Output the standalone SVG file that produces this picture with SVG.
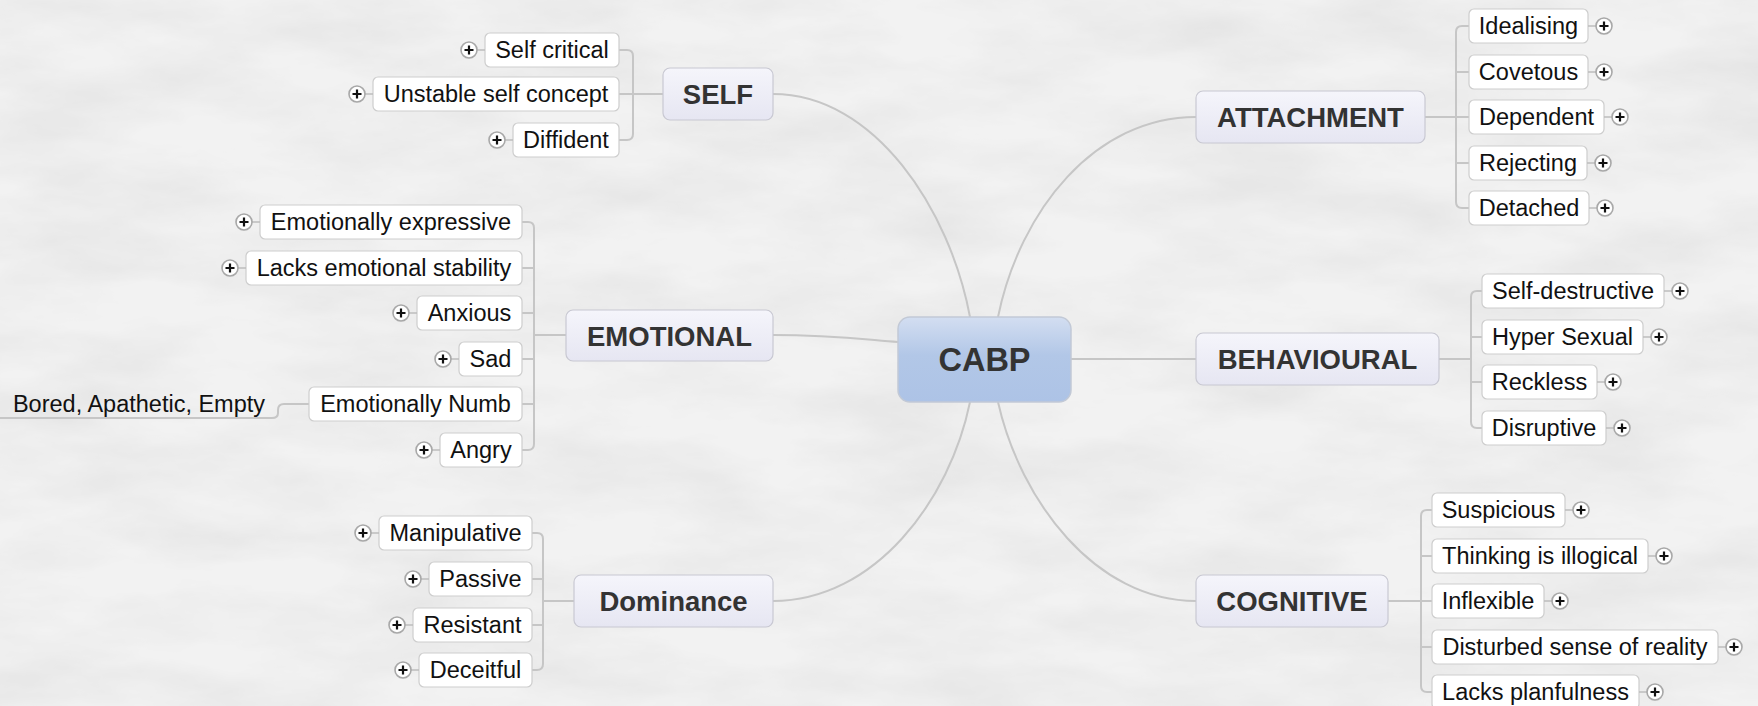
<svg xmlns="http://www.w3.org/2000/svg" xmlns:xlink="http://www.w3.org/1999/xlink" width="1758" height="706" viewBox="0 0 1758 706">
<style>
.conn{fill:none;stroke:#c6c6c6;stroke-width:2}
.child rect{fill:#fff;stroke:#cdcdcd;stroke-width:1.2}
.child text,.leaf text{font-family:"Liberation Sans",Arial,sans-serif;font-size:23.5px;fill:#111;text-anchor:middle}
.topic rect{fill:url(#topicGrad);stroke:#c8c8d2;stroke-width:1.2}
.topic text{font-family:"Liberation Sans",Arial,sans-serif;font-weight:bold;font-size:27.5px;fill:#333;text-anchor:middle}
.central rect{fill:url(#centralGrad);stroke:#c2c9d6;stroke-width:1.5}
.central text{font-family:"Liberation Sans",Arial,sans-serif;font-weight:bold;font-size:32.5px;fill:#333;text-anchor:middle}
.pc{fill:#fff;stroke:#a8a8a8;stroke-width:1.6}
.pt{stroke:#bdbdbd;stroke-width:1.5}
.pp{stroke:#111;stroke-width:2.2}
</style>
<defs>
<linearGradient id="topicGrad" x1="0" y1="0" x2="0" y2="1">
<stop offset="0" stop-color="#f5f5fb"/>
<stop offset="1" stop-color="#e6e6f2"/>
</linearGradient>
<linearGradient id="centralGrad" x1="0" y1="0" x2="0" y2="1">
<stop offset="0" stop-color="#d3def1"/>
<stop offset="0.45" stop-color="#b2c7e7"/>
<stop offset="1" stop-color="#adc3e6"/>
</linearGradient>
<filter id="marble" x="0" y="0" width="100%" height="100%">
<feTurbulence type="fractalNoise" baseFrequency="0.006 0.018" numOctaves="5" seed="7"/>
<feColorMatrix type="matrix" values="0 0 0 0 0.55  0 0 0 0 0.55  0 0 0 0 0.55  0.5 0 0 0 -0.17"/>
</filter>
<g id="plusL">
<line class="pt" x1="8" y1="0" x2="16" y2="0"/>
<circle class="pc" cx="0" cy="0" r="8"/>
<path class="pp" d="M-4.5,0H4.5M0,-4.5V4.5"/>
</g>
<g id="plusR">
<line class="pt" x1="-16" y1="0" x2="-8" y2="0"/>
<circle class="pc" cx="0" cy="0" r="8"/>
<path class="pp" d="M-4.5,0H4.5M0,-4.5V4.5"/>
</g>
</defs>

<rect width="1758" height="706" fill="#f2f2f2"/>
<rect width="1758" height="706" filter="url(#marble)"/>

<g id="connectors">
<path class="conn" d="M773,94 C875,94 950,210 970,317"/>
<path class="conn" d="M773,335 C830,335 860,339 898,342"/>
<path class="conn" d="M773,601 C875,601 950,500 970,402"/>
<path class="conn" d="M998,317 C1020,210 1095,117 1196,117"/>
<path class="conn" d="M1071,359 H1196"/>
<path class="conn" d="M998,402 C1020,500 1095,601 1196,601"/>
<path class="conn" d="M619,50 H627 Q633,50 633,56 V134 Q633,140 627,140 H619 M619,94 H663"/>
<path class="conn" d="M522,222 H528 Q534,222 534,228 V444 Q534,450 528,450 H522 M522,268 H534 M522,313 H534 M522,359 H534 M522,404 H534 M534,335 H566"/>
<path class="conn" d="M309,404 H284 Q278,404 278,410 V413 Q278,418 272,418 H0"/>
<path class="conn" d="M532,533 H537 Q543,533 543,539 V664 Q543,670 537,670 H532 M532,579 H543 M532,625 H543 M543,601 H574"/>
<path class="conn" d="M1469,26 H1462 Q1456,26 1456,32 V202 Q1456,208 1462,208 H1469 M1469,72 H1456 M1469,117 H1456 M1469,163 H1456 M1425,117 H1456"/>
<path class="conn" d="M1482,291 H1477 Q1471,291 1471,297 V422 Q1471,428 1477,428 H1482 M1482,337 H1471 M1482,382 H1471 M1439,359 H1471"/>
<path class="conn" d="M1432,510 H1427 Q1421,510 1421,516 V686 Q1421,692 1427,692 H1432 M1432,556 H1421 M1432,601 H1421 M1432,647 H1421 M1388,601 H1421"/>
</g>

<g id="cabp" class="central"><rect x="898" y="317" width="173" height="85" rx="12"/><text x="984.5" y="371">CABP</text></g>

<g id="self" class="topic"><rect x="663" y="68" width="110" height="52" rx="7"/><text x="718" y="104">SELF</text></g>
<g id="self-critical" class="child"><rect x="485" y="33" width="134" height="34" rx="5"/><text x="552" y="58">Self critical</text><use href="#plusL" x="469" y="50"/></g>
<g id="unstable-self-concept" class="child"><rect x="373" y="77" width="246" height="34" rx="5"/><text x="496" y="102">Unstable self concept</text><use href="#plusL" x="357" y="94"/></g>
<g id="diffident" class="child"><rect x="513" y="123" width="106" height="34" rx="5"/><text x="566" y="148">Diffident</text><use href="#plusL" x="497" y="140"/></g>

<g id="emotional" class="topic"><rect x="566" y="310" width="207" height="51" rx="7"/><text x="669.5" y="345.5">EMOTIONAL</text></g>
<g id="emotionally-expressive" class="child"><rect x="260" y="205" width="262" height="34" rx="5"/><text x="391" y="230">Emotionally expressive</text><use href="#plusL" x="244" y="222"/></g>
<g id="lacks-emotional-stability" class="child"><rect x="246" y="251" width="276" height="34" rx="5"/><text x="384" y="276">Lacks emotional stability</text><use href="#plusL" x="230" y="268"/></g>
<g id="anxious" class="child"><rect x="417" y="296" width="105" height="34" rx="5"/><text x="469.5" y="321">Anxious</text><use href="#plusL" x="401" y="313"/></g>
<g id="sad" class="child"><rect x="459" y="342" width="63" height="34" rx="5"/><text x="490.5" y="367">Sad</text><use href="#plusL" x="443" y="359"/></g>
<g id="emotionally-numb" class="child"><rect x="309" y="387" width="213" height="34" rx="5"/><text x="415.5" y="412">Emotionally Numb</text></g>
<g id="bored" class="leaf"><text x="139" y="412">Bored, Apathetic, Empty</text></g>
<g id="angry" class="child"><rect x="440" y="433" width="82" height="34" rx="5"/><text x="481" y="458">Angry</text><use href="#plusL" x="424" y="450"/></g>

<g id="dominance" class="topic"><rect x="574" y="575" width="199" height="52" rx="7"/><text x="673.5" y="611">Dominance</text></g>
<g id="manipulative" class="child"><rect x="379" y="516" width="153" height="34" rx="5"/><text x="455.5" y="541">Manipulative</text><use href="#plusL" x="363" y="533"/></g>
<g id="passive" class="child"><rect x="429" y="562" width="103" height="34" rx="5"/><text x="480.5" y="587">Passive</text><use href="#plusL" x="413" y="579"/></g>
<g id="resistant" class="child"><rect x="413" y="608" width="119" height="34" rx="5"/><text x="472.5" y="633">Resistant</text><use href="#plusL" x="397" y="625"/></g>
<g id="deceitful" class="child"><rect x="419" y="653" width="113" height="34" rx="5"/><text x="475.5" y="678">Deceitful</text><use href="#plusL" x="403" y="670"/></g>

<g id="attachment" class="topic"><rect x="1196" y="91" width="229" height="52" rx="7"/><text x="1310.5" y="127">ATTACHMENT</text></g>
<g id="idealising" class="child"><rect x="1469" y="9" width="119" height="34" rx="5"/><text x="1528.5" y="34">Idealising</text><use href="#plusR" x="1604" y="26"/></g>
<g id="covetous" class="child"><rect x="1469" y="55" width="119" height="34" rx="5"/><text x="1528.5" y="80">Covetous</text><use href="#plusR" x="1604" y="72"/></g>
<g id="dependent" class="child"><rect x="1469" y="100" width="135" height="34" rx="5"/><text x="1536.5" y="125">Dependent</text><use href="#plusR" x="1620" y="117"/></g>
<g id="rejecting" class="child"><rect x="1469" y="146" width="118" height="34" rx="5"/><text x="1528" y="171">Rejecting</text><use href="#plusR" x="1603" y="163"/></g>
<g id="detached" class="child"><rect x="1469" y="191" width="120" height="34" rx="5"/><text x="1529" y="216">Detached</text><use href="#plusR" x="1605" y="208"/></g>

<g id="behavioural" class="topic"><rect x="1196" y="333" width="243" height="52" rx="7"/><text x="1317.5" y="369">BEHAVIOURAL</text></g>
<g id="self-destructive" class="child"><rect x="1482" y="274" width="182" height="34" rx="5"/><text x="1573" y="299">Self-destructive</text><use href="#plusR" x="1680" y="291"/></g>
<g id="hyper-sexual" class="child"><rect x="1482" y="320" width="161" height="34" rx="5"/><text x="1562.5" y="345">Hyper Sexual</text><use href="#plusR" x="1659" y="337"/></g>
<g id="reckless" class="child"><rect x="1482" y="365" width="115" height="34" rx="5"/><text x="1539.5" y="390">Reckless</text><use href="#plusR" x="1613" y="382"/></g>
<g id="disruptive" class="child"><rect x="1482" y="411" width="124" height="34" rx="5"/><text x="1544" y="436">Disruptive</text><use href="#plusR" x="1622" y="428"/></g>

<g id="cognitive" class="topic"><rect x="1196" y="575" width="192" height="52" rx="7"/><text x="1292" y="611">COGNITIVE</text></g>
<g id="suspicious" class="child"><rect x="1432" y="493" width="133" height="34" rx="5"/><text x="1498.5" y="518">Suspicious</text><use href="#plusR" x="1581" y="510"/></g>
<g id="thinking-is-illogical" class="child"><rect x="1432" y="539" width="216" height="34" rx="5"/><text x="1540" y="564">Thinking is illogical</text><use href="#plusR" x="1664" y="556"/></g>
<g id="inflexible" class="child"><rect x="1432" y="584" width="112" height="34" rx="5"/><text x="1488" y="609">Inflexible</text><use href="#plusR" x="1560" y="601"/></g>
<g id="disturbed-sense-of-reality" class="child"><rect x="1432" y="630" width="286" height="34" rx="5"/><text x="1575" y="655">Disturbed sense of reality</text><use href="#plusR" x="1734" y="647"/></g>
<g id="lacks-planfulness" class="child"><rect x="1432" y="675" width="207" height="34" rx="5"/><text x="1535.5" y="700">Lacks planfulness</text><use href="#plusR" x="1655" y="692"/></g>
</svg>
